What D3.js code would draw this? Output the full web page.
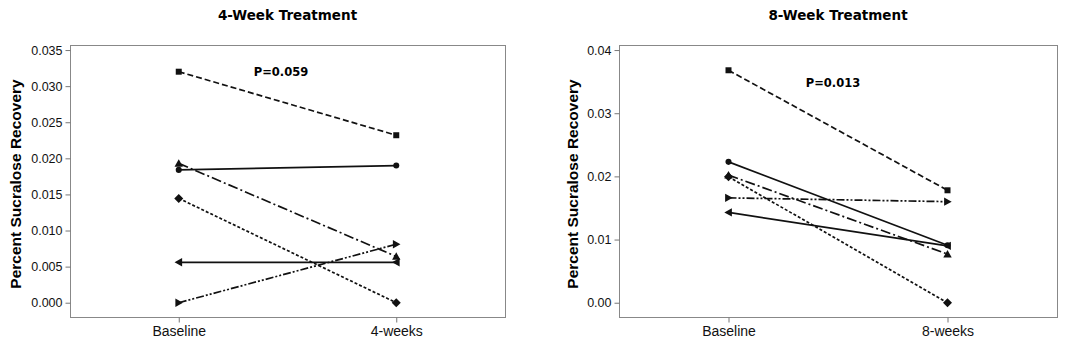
<!DOCTYPE html>
<html>
<head>
<meta charset="utf-8">
<script src="https://cdn.jsdelivr.net/npm/d3@7"></script>
<style>
  body { margin: 0; background: #fff; }
  svg { display: block; }
  .tick text { font-family: "Liberation Sans", Arial, sans-serif; font-size: 12.5px; fill: #111; }
  .axis path, .axis line { stroke: #777; }
  .title { font-family: "DejaVu Sans", Verdana, sans-serif; font-weight: bold; font-size: 13.5px; }
  .ylabel { font-family: "Liberation Sans", Arial, sans-serif; font-weight: bold; font-size: 15.5px; }
  .pval { font-family: "DejaVu Sans", Verdana, sans-serif; font-weight: bold; font-size: 11.5px; }
</style>
</head>
<body>
<svg id="chart" width="1084" height="343"></svg>
<script>
// subjects: marker shape + line style
var subjects = ["square", "circle", "triangleUp", "diamond", "triangleLeft", "triangleRight"];
var dashes = ["6,3", null, "10,3,2,3", "3,2", null, "8,2,2,2,2,2"];

var times4 = ["Baseline", "4-weeks"];
var base4 = [0.0320, 0.0184, 0.0193, 0.01445, 0.0056, 0.0000];
var after4 = [0.0232, 0.0190, 0.0064, 0.0000, 0.0056, 0.0081];
var ticks4 = [0, 0.005, 0.010, 0.015, 0.020, 0.025, 0.030, 0.035];

var times8 = ["Baseline", "8-weeks"];
var base8 = [0.0368, 0.0223, 0.0202, 0.01995, 0.0143, 0.0166];
var after8 = [0.0178, 0.0091, 0.0077, 0.0000, 0.0090, 0.0160];
var ticks8 = [0, 0.01, 0.02, 0.03, 0.04];

var panels = [
  {title: "4-Week Treatment", times: times4, base: base4, after: after4, ticks: ticks4,
   fmt: ".3f", ymax: 0.0357, ymin: -0.00198, left: 70, right: 505, labelX: 15,
   p: "P=0.059", px: 281, pv: 0.0320},
  {title: "8-Week Treatment", times: times8, base: base8, after: after8, ticks: ticks8,
   fmt: ".2f", ymax: 0.0408, ymin: -0.00226, left: 619, right: 1057, labelX: 572,
   p: "P=0.013", px: 833, pv: 0.0348}
];

var plotTop = 45, plotBottom = 317;
var svg = d3.select("#chart");

function markerPath(shape, s) {
  if (shape === "square") return d3.symbol(d3.symbolSquare, s * s)();
  if (shape === "circle") return d3.symbol(d3.symbolCircle, s * s * 0.8)();
  if (shape === "diamond") { var h = s * 0.75; return "M0," + (-h) + "L" + h + ",0L0," + h + "L" + (-h) + ",0Z"; }
  var a = s * 0.7;
  if (shape === "triangleUp") return "M0," + (-a) + "L" + a + "," + a * 0.8 + "L" + (-a) + "," + a * 0.8 + "Z";
  if (shape === "triangleLeft") return "M" + (-a) + ",0L" + a * 0.8 + "," + (-a) + "L" + a * 0.8 + "," + a + "Z";
  if (shape === "triangleRight") return "M" + a + ",0L" + (-a * 0.8) + "," + (-a) + "L" + (-a * 0.8) + "," + a + "Z";
}

panels.forEach(function(pn) {
  var x = d3.scalePoint().domain(pn.times).range([pn.left, pn.right]).padding(0.5);
  var y = d3.scaleLinear().domain([pn.ymin, pn.ymax]).range([plotBottom, plotTop]);
  var g = svg.append("g");

  // frame
  g.append("rect")
    .attr("x", pn.left + 0.5).attr("y", plotTop + 0.5)
    .attr("width", pn.right - pn.left).attr("height", plotBottom - plotTop)
    .attr("fill", "none").attr("stroke", "#888").attr("stroke-width", 1);

  g.append("g").attr("class", "axis")
    .attr("transform", "translate(" + (pn.left + 0.5) + ",0)")
    .call(d3.axisLeft(y).tickValues(pn.ticks).tickFormat(d3.format(pn.fmt)).tickSize(5).tickPadding(3))
    .call(function(a) { a.select(".domain").remove(); });

  g.append("g").attr("class", "axis")
    .attr("transform", "translate(0," + (plotBottom + 0.5) + ")")
    .call(d3.axisBottom(x).tickSize(5).tickPadding(4))
    .call(function(a) { a.select(".domain").remove(); a.selectAll("text").style("font-size", "14px"); });

  g.append("text").attr("class", "title")
    .attr("x", (pn.left + pn.right) / 2).attr("y", 20)
    .attr("text-anchor", "middle").text(pn.title);

  g.append("text").attr("class", "ylabel")
    .attr("transform", "translate(" + (pn.labelX + 6) + "," + ((plotTop + plotBottom) / 2 + 3) + ") rotate(-90)")
    .attr("text-anchor", "middle").text("Percent Sucralose Recovery");

  g.append("text").attr("class", "pval")
    .attr("x", pn.px).attr("y", y(pn.pv) + 4)
    .attr("text-anchor", "middle").text(pn.p);

  subjects.forEach(function(shape, i) {
    var pts = [[x(pn.times[0]), y(pn.base[i])], [x(pn.times[1]), y(pn.after[i])]];
    g.append("path")
      .attr("d", d3.line()(pts))
      .attr("fill", "none").attr("stroke", "#111").attr("stroke-width", 1.7)
      .attr("stroke-dasharray", dashes[i]);
    pts.forEach(function(p) {
      g.append("path")
        .attr("d", markerPath(shape, 6))
        .attr("transform", "translate(" + p[0] + "," + p[1] + ")")
        .attr("fill", "#111");
    });
  });
});
</script>
</body>
</html>
